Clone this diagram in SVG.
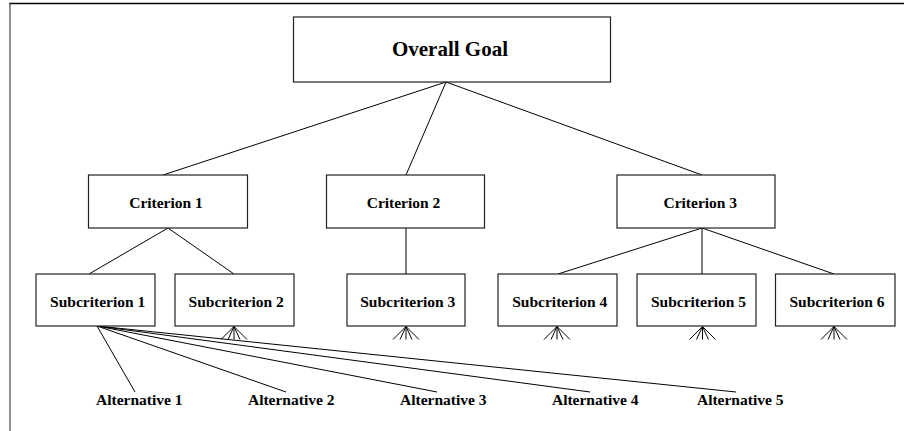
<svg xmlns="http://www.w3.org/2000/svg" width="904" height="431" viewBox="0 0 904 431">
<style>
.box{fill:#fff;stroke:#222;stroke-width:1.2}
.ln{stroke:#000;stroke-width:1;fill:none}
text{font-family:'Liberation Serif','Times New Roman',Times,serif;font-weight:700;fill:#000;text-anchor:middle}
.m{font-size:15.5px}
.g{font-size:21px}
</style>
<rect width="904" height="431" fill="#fff"/>
<g id="frame">
<line x1="9" y1="3.5" x2="904" y2="3.5" stroke="#000" stroke-width="1.3"/>
<line x1="10" y1="3" x2="10" y2="431" stroke="#555" stroke-width="1.3"/>
</g>
<g id="connectors" class="ln">
<line x1="446" y1="82" x2="163" y2="175"/>
<line x1="446" y1="82" x2="406" y2="175"/>
<line x1="446" y1="82" x2="702" y2="175"/>
<line x1="168" y1="228" x2="89" y2="274"/>
<line x1="168" y1="228" x2="234" y2="274"/>
<line x1="406" y1="228" x2="406" y2="274"/>
<line x1="702" y1="228" x2="558" y2="274"/>
<line x1="702" y1="228" x2="702" y2="274"/>
<line x1="702" y1="228" x2="834" y2="274"/>
<line x1="97" y1="326" x2="135" y2="392"/>
<line x1="97" y1="326" x2="286" y2="392"/>
<line x1="97" y1="326" x2="437" y2="392"/>
<line x1="97" y1="326" x2="590" y2="392"/>
<line x1="97" y1="326" x2="736" y2="392"/>
<g id="fans">
<path d="M234 326.5 l-13 13 M234 326.5 l-6 13 M234 326.5 l0 13 M234 326.5 l6 13 M234 326.5 l13 13"/>
<path d="M406 326.5 l-13 13 M406 326.5 l-6 13 M406 326.5 l0 13 M406 326.5 l6 13 M406 326.5 l13 13"/>
<path d="M557 326.5 l-13 13 M557 326.5 l-6 13 M557 326.5 l0 13 M557 326.5 l6 13 M557 326.5 l13 13"/>
<path d="M702.5 326.5 l-13 13 M702.5 326.5 l-6 13 M702.5 326.5 l0 13 M702.5 326.5 l6 13 M702.5 326.5 l13 13"/>
<path d="M834 326.5 l-13 13 M834 326.5 l-6 13 M834 326.5 l0 13 M834 326.5 l6 13 M834 326.5 l13 13"/>
</g>
</g>
<g id="goal"><rect class="box" x="293.5" y="17" width="317" height="65"/><text class="g" x="450" y="56">Overall Goal</text></g>
<g id="criterion1"><rect class="box" x="88.5" y="175" width="159" height="53"/><text class="m" x="166" y="207.5">Criterion 1</text></g>
<g id="criterion2"><rect class="box" x="326.5" y="175" width="158" height="53"/><text class="m" x="403.5" y="207.5">Criterion 2</text></g>
<g id="criterion3"><rect class="box" x="617" y="175" width="158" height="53"/><text class="m" x="700.3" y="207.5">Criterion 3</text></g>
<g id="sub1"><rect class="box" x="36" y="274" width="119" height="52"/><text class="m" x="97.7" y="307.3">Subcriterion 1</text></g>
<g id="sub2"><rect class="box" x="175" y="274" width="119" height="52"/><text class="m" x="236.2" y="307.3">Subcriterion 2</text></g>
<g id="sub3"><rect class="box" x="347" y="274" width="118" height="52"/><text class="m" x="407.8" y="307.3">Subcriterion 3</text></g>
<g id="sub4"><rect class="box" x="498" y="274" width="119" height="52"/><text class="m" x="559.8" y="307.3">Subcriterion 4</text></g>
<g id="sub5"><rect class="box" x="637" y="274" width="119" height="52"/><text class="m" x="698.5" y="307.3">Subcriterion 5</text></g>
<g id="sub6"><rect class="box" x="775.5" y="274" width="119.5" height="52"/><text class="m" x="837" y="307.3">Subcriterion 6</text></g>
<g id="alt1"><text class="m" x="139.3" y="405">Alternative 1</text></g>
<g id="alt2"><text class="m" x="291.2" y="405">Alternative 2</text></g>
<g id="alt3"><text class="m" x="443.3" y="405">Alternative 3</text></g>
<g id="alt4"><text class="m" x="595.2" y="405">Alternative 4</text></g>
<g id="alt5"><text class="m" x="740.2" y="405">Alternative 5</text></g>
</svg>
